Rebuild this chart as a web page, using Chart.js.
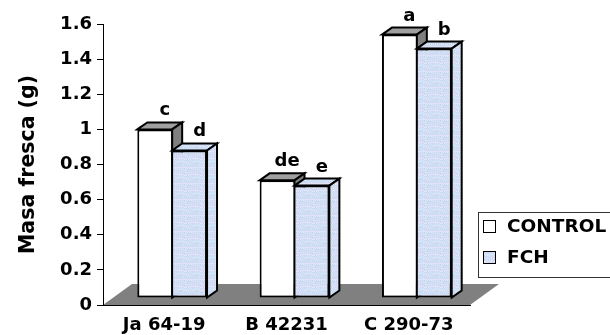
<!DOCTYPE html>
<html>
<head>
<meta charset="utf-8">
<script src="https://cdn.jsdelivr.net/npm/chart.js@4.4.0/dist/chart.umd.min.js"></script>
<style>
  html, body { margin: 0; padding: 0; background: #ffffff; }
  #wrap { width: 610px; height: 335px; }
  canvas { display: block; }
</style>
</head>
<body>
<div id="wrap"><canvas id="chart" width="610" height="335"></canvas></div>
<script>
// Fresh mass per genotype, control vs. FCH treatment
const categories = ['Ja 64-19', 'B 42231', 'C 290-73'];
const seriesNames = ['CONTROL', 'FCH'];
const controlValues = [0.96, 0.67, 1.50];
const fchValues = [0.84, 0.64, 1.42];
const controlLetters = ['c', 'de', 'a'];
const fchLetters = ['d', 'e', 'b'];
const yTickValues = [0, 0.2, 0.4, 0.6, 0.8, 1, 1.2, 1.4, 1.6];
const yTitle = 'Masa fresca (g)';

const FONT = '"DejaVu Sans", "Liberation Sans", sans-serif';
const FRONT = { x: 8, y: -7 };    // bar front faces sit behind the axis plane
const DEPTH = { x: 10, y: -7 };   // depth of each bar
const FLOOR = { x: 29, y: -21 };  // depth of the floor

const canvas = document.getElementById('chart');
const ctx0 = canvas.getContext('2d');

// light blue speckled fill for the FCH bars
function speckle() {
  const tile = document.createElement('canvas');
  tile.width = 16; tile.height = 16;
  const g = tile.getContext('2d');
  const tones = ['#cddcf3', '#c2d6f2', '#dfe5f8', '#d8d4ef', '#c8e2f7', '#e4eafa', '#cbd8ef', '#d4e4f6'];
  let s = 12345;
  for (let y = 0; y < 16; y++) {
    for (let x = 0; x < 16; x++) {
      s = (s * 1103515245 + 12345) & 0x7fffffff;
      g.fillStyle = tones[(s >> 8) % tones.length];
      g.fillRect(x, y, 1, 1);
    }
  }
  return ctx0.createPattern(tile, 'repeat');
}
const fchFill = speckle();

function poly(ctx, pts, fill) {
  ctx.beginPath();
  ctx.moveTo(pts[0][0], pts[0][1]);
  for (let i = 1; i < pts.length; i++) ctx.lineTo(pts[i][0], pts[i][1]);
  ctx.closePath();
  ctx.fillStyle = fill;
  ctx.fill();
  ctx.stroke();
}

const depthPlugin = {
  id: 'depth',
  beforeDraw(chart) {
    // grey floor under the bars
    const { ctx, chartArea: a } = chart;
    ctx.save();
    ctx.fillStyle = '#808080';
    ctx.beginPath();
    ctx.moveTo(a.left, a.bottom);
    ctx.lineTo(a.right, a.bottom);
    ctx.lineTo(a.right + FLOOR.x, a.bottom + FLOOR.y);
    ctx.lineTo(a.left + FLOOR.x, a.bottom + FLOOR.y);
    ctx.closePath();
    ctx.fill();
    ctx.restore();
  },
  // bars are painted below, left to right, so each one can get its top and side faces
  beforeDatasetDraw() {
    return false;
  },
  afterDatasetsDraw(chart) {
    const ctx = chart.ctx;
    ctx.save();
    ctx.translate(FRONT.x, FRONT.y);
    chart.data.datasets.forEach((ds, i) => {
      chart.getDatasetMeta(i).data.forEach((bar) => {
        bar.draw(ctx, chart.chartArea);
        const { x, y, base, width } = bar.getProps(['x', 'y', 'base', 'width'], true);
        const l = x - width / 2, r = x + width / 2;
        ctx.save();
        ctx.lineWidth = 2;
        ctx.strokeStyle = '#000000';
        ctx.lineJoin = 'miter';
        poly(ctx, [[l, y], [l + DEPTH.x, y + DEPTH.y], [r + DEPTH.x, y + DEPTH.y], [r, y]], ds.topFill);
        poly(ctx, [[r, y], [r + DEPTH.x, y + DEPTH.y], [r + DEPTH.x, base + DEPTH.y], [r, base]], ds.sideFill);
        ctx.restore();
      });
    });
    // significance letters above the back edge of each bar
    ctx.fillStyle = '#000000';
    ctx.font = 'bold 18px ' + FONT;
    ctx.textAlign = 'center';
    ctx.textBaseline = 'alphabetic';
    chart.data.datasets.forEach((ds, i) => {
      chart.getDatasetMeta(i).data.forEach((bar, j) => {
        const { x, y } = bar.getProps(['x', 'y'], true);
        ctx.fillText(ds.letters[j], x + DEPTH.x, y + DEPTH.y - 7);
      });
    });
    ctx.restore();
  },
  afterDraw(chart) {
    // legend box
    const ctx = chart.ctx;
    ctx.save();
    ctx.strokeStyle = '#333333';
    ctx.lineWidth = 1;
    ctx.fillStyle = '#ffffff';
    ctx.fillRect(478.5, 212.5, 200, 65);
    ctx.strokeRect(478.5, 212.5, 200, 65);
    const rows = [226.5, 257.5];
    chart.data.datasets.forEach((ds, i) => {
      ctx.fillStyle = ds.backgroundColor;
      ctx.fillRect(483.5, rows[i] - 6, 12, 12);
      ctx.strokeStyle = '#000000';
      ctx.strokeRect(483.5, rows[i] - 6, 12, 12);
      ctx.fillStyle = '#000000';
      ctx.font = 'bold 18.5px ' + FONT;
      ctx.textAlign = 'left';
      ctx.textBaseline = 'middle';
      ctx.fillText(ds.label, 507, rows[i] + 1);
    });
    ctx.restore();
  }
};

new Chart(canvas, {
  type: 'bar',
  data: {
    labels: categories,
    datasets: [
      {
        label: seriesNames[0],
        data: controlValues,
        letters: controlLetters,
        backgroundColor: '#ffffff',
        topFill: '#a0a0a0',
        sideFill: '#808080',
        borderColor: '#000000',
        borderWidth: { top: 2, left: 2, bottom: 2, right: 1 },
        borderSkipped: false
      },
      {
        label: seriesNames[1],
        data: fchValues,
        letters: fchLetters,
        backgroundColor: fchFill,
        topFill: fchFill,
        sideFill: fchFill,
        borderColor: '#000000',
        borderWidth: { top: 2, left: 1, bottom: 2, right: 2 },
        borderSkipped: false
      }
    ]
  },
  options: {
    responsive: false,
    animation: false,
    devicePixelRatio: 1,
    categoryPercentage: 0.57,
    barPercentage: 1,
    layout: { padding: { left: 0, top: 24, right: 140, bottom: 0 } },
    plugins: { legend: { display: false }, tooltip: { enabled: false } },
    scales: {
      x: {
        grid: { display: false, drawTicks: false },
        border: { display: true, color: '#000000', width: 1 },
        ticks: {
          color: '#000000',
          font: { family: FONT, size: 18, weight: 'bold' },
          padding: 10,
          maxRotation: 0,
          autoSkip: false
        },
        afterFit(s) { s.height = 30; }
      },
      y: {
        min: 0,
        max: 1.6,
        afterBuildTicks(s) { s.ticks = yTickValues.map((v) => ({ value: v })); },
        grid: { drawOnChartArea: false, drawTicks: true, tickLength: 6, color: '#000000' },
        border: { display: true, color: '#000000', width: 1 },
        ticks: {
          color: '#000000',
          font: { family: FONT, size: 18, weight: 'bold' },
          padding: 5,
          callback: (v) => String(v)
        },
        title: {
          display: true,
          text: yTitle,
          color: '#000000',
          font: { family: FONT, size: 20.5, weight: 'bold' },
          padding: { top: 16, bottom: 0 }
        },
        afterFit(s) { s.width = 103; }
      }
    }
  },
  plugins: [depthPlugin]
});
</script>
</body>
</html>
